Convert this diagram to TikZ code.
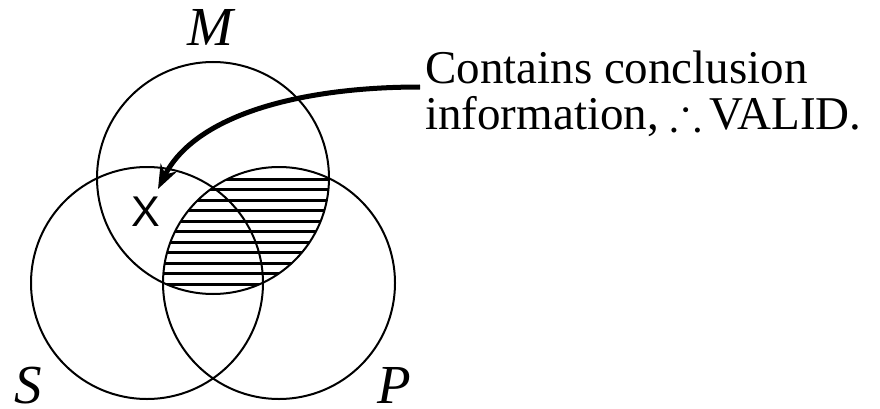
\documentclass[tikz,border=0pt]{standalone}
\usepackage{amssymb}
\usepackage{fontspec}
\setmainfont{Liberation Serif}
\newfontfamily\xsans{Liberation Sans}
\usetikzlibrary{arrows.meta}
\begin{document}
\begin{tikzpicture}[x=1pt,y=-1pt,
  circ/.style={line width=2pt},
  hatch/.style={line width=3pt},
  lbl/.style={font=\fontsize{55}{60}\selectfont\itshape, inner sep=0},
  txt/.style={font=\fontsize{47}{46}\selectfont, inner sep=0, align=left, anchor=base west},
  arr/.style={line width=5pt, -{Stealth[length=24pt,width=18pt]}}]
\useasboundingbox (0,0) rectangle (880,409);
\coordinate (cM) at (213,178);
\coordinate (cS) at (147,283);
\coordinate (cP) at (279,283);
% hatching of M and P overlap
\begin{scope}
  \clip (cM) circle[radius=116pt];
  \clip (cP) circle[radius=116pt];
  \foreach \k in {0,...,10}
    \draw[hatch] (140,{179.5+10.45*\k}) -- (340,{179.5+10.45*\k});
\end{scope}
% circles
\draw[circ] (cM) circle[radius=116pt];
\draw[circ] (cS) circle[radius=116pt];
\draw[circ] (cP) circle[radius=116pt];
% labels
\node[lbl, anchor=base] (lM) at (210,46) {M};
\node[lbl, anchor=base west] (lS) at (14,403) {S};
\node[lbl, anchor=base west] (lP) at (377,403) {P};
\node[font=\xsans\fontsize{43}{45}\selectfont, inner sep=0] (X) at (146,212) {X};
% text (base anchor is on the last line)
\node[txt] (t) at (425,129) {Contains conclusion\\information, $\therefore$\,VALID.};
% arrow
\coordinate (as) at (420,87);
\coordinate (ae) at (158,189);
\draw[arr] (as) .. controls (300,87) and (195,115) .. (ae);
\end{tikzpicture}
\end{document}
